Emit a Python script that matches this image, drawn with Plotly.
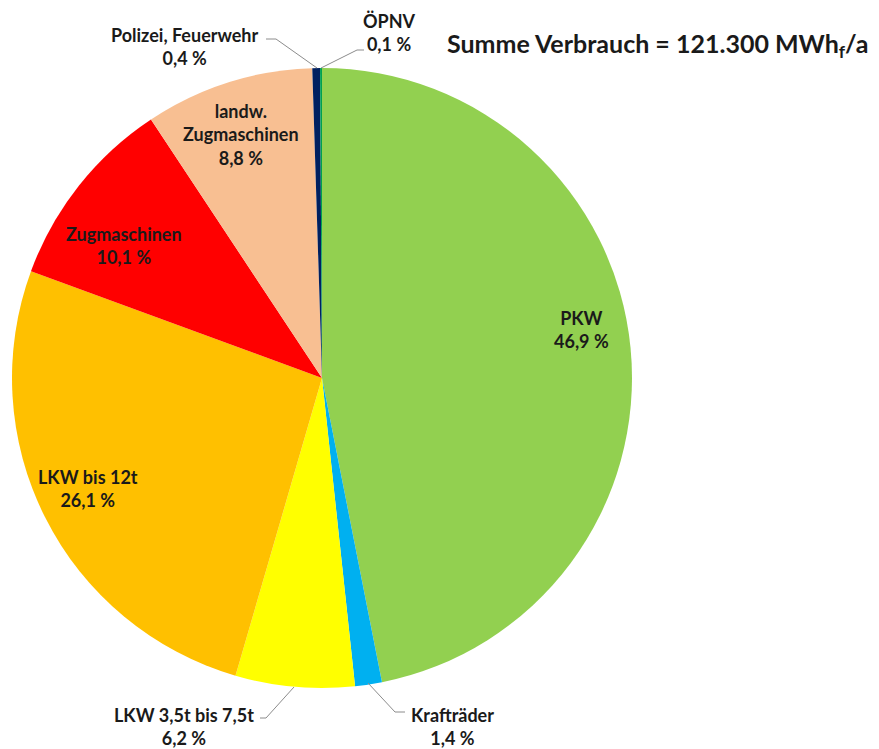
import plotly.graph_objects as go

# ---- data ----
categories = ["PKW", "Krafträder", "LKW 3,5t bis 7,5t", "LKW bis 12t",
              "Zugmaschinen", "landw.<br>Zugmaschinen", "Polizei, Feuerwehr", "ÖPNV"]
shares = [46.9, 1.4, 6.2, 26.1, 10.1, 8.8, 0.4, 0.1]
colors = ["#92D050", "#00B0F0", "#FFFF00", "#FFC000",
          "#FF0000", "#F8BF92", "#002060", "#00A050"]
title_text = "Summe Verbrauch = 121.300 MWh<sub>f</sub>/a"

OFF = 8  # page body margin
W, H = 879 - OFF, 749 - OFF
CX, CY, R = 322, 378, 310

def px(x):
    return (x - OFF) / W

def py(y):
    return 1 - (y - OFF) / H

fig = go.Figure(go.Pie(
    labels=categories,
    values=shares,
    sort=False,
    direction="clockwise",
    rotation=0,
    marker=dict(colors=colors, line=dict(width=0)),
    textinfo="none",
    hoverinfo="label+percent",
    showlegend=False,
    domain=dict(x=[px(CX - R), px(CX + R)], y=[py(CY + R), py(CY - R)]),
))

FONT = "Lato, 'Open Sans', sans-serif"
TXT = "#1a1a1a"

# label positions (pixel centres) - layout only
label_pos = {
    0: (581, 329),
    1: (452, 726),
    2: (184, 726),
    3: (88, 488),
    4: (124, 245),
    5: (241, 135),
    6: (185, 47),
    7: (389, 33),
}

def fmt(v):
    return f"{v:.1f}".replace(".", ",") + " %"

annotations = []
for i, (name, v) in enumerate(zip(categories, shares)):
    x, y = label_pos[i]
    annotations.append(dict(
        x=px(x), y=py(y), xref="paper", yref="paper",
        text=f"{name}<br>{fmt(v)}", showarrow=False,
        font=dict(family=FONT, size=18, color=TXT, weight="bold"),
        align="center", xanchor="center", yanchor="middle",
    ))

annotations.append(dict(
    x=px(657), y=py(45), xref="paper", yref="paper",
    text=title_text, showarrow=False,
    font=dict(family=FONT, size=25, color=TXT, weight="bold"),
    xanchor="center", yanchor="middle",
))

# leader lines (pixel paths) - layout only
leaders = [
    [(368, 683), (395, 712), (405, 712)],
    [(294, 687), (266, 718), (260, 718)],
    [(317, 68), (276, 39), (266, 39)],
    [(321, 68), (357, 50), (364, 50)],
]
shapes = []
for pts in leaders:
    path = "M " + " L ".join(f"{px(a)},{py(b)}" for a, b in pts)
    shapes.append(dict(type="path", path=path, xref="paper", yref="paper",
                       line=dict(color="#8c8c8c", width=1)))

fig.update_layout(
    width=W, height=H,
    margin=dict(l=0, r=0, t=0, b=0),
    paper_bgcolor="white", plot_bgcolor="white",
    annotations=annotations,
    shapes=shapes,
)

fig.write_html("out.html")
